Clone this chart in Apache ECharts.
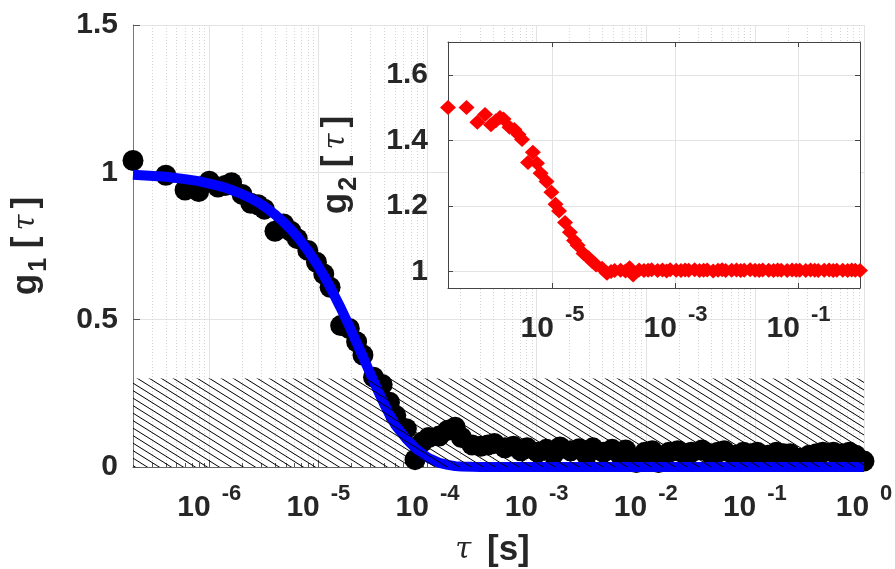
<!DOCTYPE html>
<html><head><meta charset="utf-8">
<script src="https://cdn.jsdelivr.net/npm/echarts@6/dist/echarts.min.js"></script>
<style>html,body{margin:0;padding:0;background:#fff}#c{width:895px;height:569px}</style>
</head><body><div id="c"></div>
<script>
// ---------- data ----------
const tau = [
  2e-7, 4e-7, 6e-7, 8e-7, 1e-6, 1.2e-6, 1.4e-6, 1.6e-6,
  2e-6, 2.4e-6, 2.8e-6, 3.2e-6, 4e-6, 4.8e-6, 5.6e-6, 6.4e-6,
  8e-6, 9.6e-6, 1.12e-5, 1.28e-5, 1.6e-5, 1.92e-5, 2.24e-5, 2.56e-5,
  3.2e-5, 3.84e-5, 4.48e-5, 5.12e-5, 6.4e-5, 7.68e-5, 8.96e-5, 1.024e-4,
  1.28e-4, 1.536e-4, 1.792e-4, 2.048e-4, 2.56e-4, 3.072e-4, 3.584e-4, 4.096e-4,
  5.12e-4, 6.144e-4, 7.168e-4, 8.192e-4, 1.024e-3, 1.229e-3, 1.434e-3, 1.638e-3,
  2.048e-3, 2.458e-3, 2.867e-3, 3.277e-3, 4.096e-3, 4.915e-3, 5.734e-3, 6.554e-3,
  8.192e-3, 9.830e-3, 1.147e-2, 1.311e-2, 1.638e-2, 1.966e-2, 2.294e-2, 2.621e-2,
  3.277e-2, 3.932e-2, 4.588e-2, 5.243e-2, 6.554e-2, 7.864e-2, 9.175e-2, 1.049e-1,
  1.311e-1, 1.573e-1, 1.835e-1, 2.097e-1, 2.621e-1, 3.146e-1, 3.670e-1, 4.194e-1,
  5.243e-1, 6.291e-1, 7.340e-1, 8.389e-1, 1.0
];
const g1Data = [
  1.04, 0.99, 0.94, 0.935, 0.97, 0.95, 0.955, 0.965,
  0.925, 0.895, 0.89, 0.875, 0.80, 0.825, 0.80, 0.775,
  0.735, 0.695, 0.655, 0.61, 0.48, 0.47, 0.425, 0.38,
  0.305, 0.28, 0.22, 0.175, 0.13, 0.025, 0.085, 0.10,
  0.105, 0.125, 0.135, 0.10, 0.075, 0.07, 0.075, 0.08,
  0.065, 0.07, 0.055, 0.065, 0.05, 0.06, 0.045, 0.068,
  0.055, 0.062, 0.04, 0.065, 0.05, 0.06, 0.045, 0.058,
  0.015, 0.05, 0.055, 0.015, 0.05, 0.055, 0.045, 0.05,
  0.058, 0.045, 0.05, 0.055, 0.04, 0.05, 0.045, 0.05,
  0.04, 0.05, 0.045, 0.045, 0.03, 0.04, 0.045, 0.05,
  0.05, 0.045, 0.05, 0.04, 0.02
];
const g1Fit = [
  0.992, 0.985, 0.977, 0.970, 0.962, 0.955, 0.948, 0.940,
  0.926, 0.912, 0.898, 0.884, 0.857, 0.831, 0.806, 0.782,
  0.735, 0.691, 0.650, 0.611, 0.540, 0.478, 0.422, 0.374,
  0.292, 0.228, 0.178, 0.140, 0.095, 0.065, 0.045, 0.030,
  0.014, 0.007, 0.003, 0.0015, 0.0005, 0, 0, 0,
  0, 0, 0, 0, 0, 0, 0, 0,
  0, 0, 0, 0, 0, 0, 0, 0,
  0, 0, 0, 0, 0, 0, 0, 0,
  0, 0, 0, 0, 0, 0, 0, 0,
  0, 0, 0, 0, 0, 0, 0, 0,
  0, 0, 0, 0, 0
];
const g2Data = [
  1.50, 1.50, 1.455, 1.479, 1.448, 1.46, 1.47, 1.465,
  1.44, 1.433, 1.418, 1.403, 1.333, 1.364, 1.33, 1.30,
  1.275, 1.242, 1.205, 1.185, 1.15, 1.12, 1.095, 1.08,
  1.055, 1.042, 1.03, 1.02, 1.01, 0.995, 1.0, 1.003,
  1.004, 1.002, 1.012, 0.99, 1.005, 1.003, 1.004, 1.006,
  1.003, 1.005, 1.002, 1.006, 1.004, 1.003, 1.005, 1.004,
  1.006, 1.003, 1.004, 1.005, 1.002, 1.004, 1.006, 1.003,
  1.004, 1.005, 1.003, 1.004, 1.006, 1.004, 1.003, 1.005,
  1.004, 1.003, 1.005, 1.004, 1.003, 1.005, 1.004, 1.004,
  1.003, 1.005, 1.004, 1.003, 1.004, 1.005, 1.003, 1.004,
  1.004, 1.003, 1.005, 1.004, 1.003
];
const mainXTicks = [1e-6, 1e-5, 1e-4, 1e-3, 1e-2, 1e-1, 1];
const mainYTicks = [0, 0.5, 1, 1.5];
const insetXTicks = [1e-5, 1e-3, 1e-1];
const insetYTicks = [1, 1.2, 1.4, 1.6];
const minorDecades = [1e-7, 1e-6, 1e-5, 1e-4, 1e-3, 1e-2, 1e-1];
const minorSteps = [2, 3, 4, 5, 6, 7, 8, 9];
const hatchBand = [0, 0.3];
const xRange = [2e-7, 1];
const mainYRange = [0, 1.5];
const insetYRange = [0.95, 1.7];

// ---------- layout / style ----------
const F = 'Liberation Sans';
const TXT = '#262626';
const MAIN = {left: 133, top: 25, width: 731, height: 442};
const INSET = {left: 448, top: 42, width: 412, height: 246};

const minorTicks = [];
minorDecades.forEach(d => minorSteps.forEach(s => {
  const v = d * s;
  if (v > xRange[0] * 1.0001 && v < xRange[1]) minorTicks.push(v);
}));

const hatchCanvas = document.createElement('canvas');
hatchCanvas.width = 24; hatchCanvas.height = 15;
(function () {
  const c = hatchCanvas.getContext('2d');
  c.strokeStyle = '#000'; c.lineWidth = 1;
  for (let k = -4; k <= 4; k++) {
    c.beginPath(); c.moveTo(k * 12 - 24, -15); c.lineTo(k * 12 + 48, 30); c.stroke();
  }
})();

// tick labels 10^n : both tokens get the same box height so the exponent sits higher
const richTick = {
  b: {fontFamily: F, fontSize: 30, fontWeight: 'bold', color: TXT, lineHeight: 30, padding: [10, 0, 0, 0]},
  s: {fontFamily: F, fontSize: 22, fontWeight: 'bold', color: TXT, lineHeight: 22, padding: [0, 0, 18, 11]}
};
function pow10Label(v) {
  const e = Math.round(Math.log10(v));
  return '{b|10}{s|' + e + '}';
}
// axis names with subscript
const richName = {
  g: {fontFamily: F, fontSize: 35, fontWeight: 'bold', color: TXT, lineHeight: 35, padding: [0, 0, 8, 0]},
  sub: {fontFamily: F, fontSize: 25, fontWeight: 'bold', color: TXT, lineHeight: 25, padding: [18, 0, 0, 2]},
  br: {fontFamily: F, fontSize: 35, fontWeight: 'bold', color: TXT, lineHeight: 35, padding: [0, 0, 8, 0]},
  t: {fontFamily: 'DejaVu Serif', fontStyle: 'italic', fontSize: 29, color: TXT, lineHeight: 35, padding: [0, 6, 8, 6]},
  sp: {fontFamily: F, fontSize: 35, color: TXT, lineHeight: 35, padding: [0, 0, 8, 0]}
};
const plainLabel = {fontFamily: F, fontSize: 30, fontWeight: 'bold', color: TXT};

const chart = echarts.init(document.getElementById('c'), null, {renderer: 'canvas'});
chart.setOption({
  animation: false,
  backgroundColor: '#fff',
  textStyle: {fontFamily: F},
  grid: [
    {left: MAIN.left, top: MAIN.top, width: MAIN.width, height: MAIN.height, containLabel: false, outerBoundsMode: 'none'},
    {left: INSET.left, top: INSET.top, width: INSET.width, height: INSET.height, containLabel: false, outerBoundsMode: 'none'}
  ],
  graphic: [{
    type: 'rect', z: 3, silent: true,
    shape: {x: INSET.left, y: INSET.top, width: INSET.width, height: INSET.height},
    style: {fill: '#fff'}
  }],
  xAxis: [
    {
      gridIndex: 0, type: 'log', logBase: 10, min: xRange[0], max: xRange[1], position: 'bottom', z: 0,
      axisLine: {show: true, onZero: false, lineStyle: {color: '#666', width: 1}},
      axisTick: {show: true, inside: true, length: 7, customValues: mainXTicks, lineStyle: {color: '#555'}},
      axisLabel: {show: true, customValues: mainXTicks, formatter: pow10Label, rich: richTick, margin: 21},
      splitLine: {show: true, lineStyle: {color: '#e3e3e3', width: 1}},
      minorTick: {show: false}, minorSplitLine: {show: false},
      name: '{t|τ}{sp| }{br|[s]}', nameLocation: 'middle', nameGap: 70,
      nameTextStyle: {rich: richName, fontSize: 35, padding: [0, 18, 0, 0]}
    },
    {
      gridIndex: 1, type: 'log', logBase: 10, min: xRange[0], max: xRange[1], position: 'bottom', z: 4,
      axisLine: {show: true, onZero: false, lineStyle: {color: '#444', width: 1}},
      axisTick: {show: true, inside: true, length: 5, customValues: insetXTicks, lineStyle: {color: '#444'}},
      axisLabel: {show: true, customValues: insetXTicks, formatter: pow10Label, rich: richTick, margin: 21},
      splitLine: {show: true, lineStyle: {color: '#e3e3e3', width: 1}}
    },
    {
      gridIndex: 1, type: 'log', logBase: 10, min: xRange[0], max: xRange[1], position: 'top', z: 4,
      axisLine: {show: true, onZero: false, lineStyle: {color: '#444', width: 1}},
      axisTick: {show: true, inside: true, length: 5, customValues: insetXTicks, lineStyle: {color: '#444'}},
      axisLabel: {show: false}, splitLine: {show: false}
    }
  ],
  yAxis: [
    {
      gridIndex: 0, type: 'value', min: mainYRange[0], max: mainYRange[1], interval: 0.5, z: 0,
      axisLine: {show: true, onZero: false, lineStyle: {color: '#777', width: 1}},
      axisTick: {show: true, inside: true, length: 7, customValues: mainYTicks, lineStyle: {color: '#555'}},
      axisLabel: Object.assign({show: true, margin: 15, customValues: mainYTicks, formatter: v => String(v)}, plainLabel),
      splitLine: {show: true, lineStyle: {color: '#e3e3e3', width: 1}},
      name: '{g|g}{sub|1}{sp| }{br|[}{t|τ}{br|]}', nameLocation: 'middle', nameRotate: 90, nameGap: 85,
      nameTextStyle: {rich: richName, fontSize: 35}
    },
    {
      gridIndex: 1, type: 'value', min: insetYRange[0], max: insetYRange[1], z: 4,
      axisLine: {show: true, onZero: false, lineStyle: {color: '#444', width: 1}},
      axisTick: {show: true, inside: true, length: 5, customValues: insetYTicks, lineStyle: {color: '#444'}},
      axisLabel: Object.assign({show: true, margin: 20, customValues: insetYTicks, formatter: v => String(+v.toFixed(1))}, plainLabel),
      splitLine: {show: true, lineStyle: {color: '#e3e3e3', width: 1}},
      name: '{g|g}{sub|2}{sp| }{br|[}{t|τ}{br|]}', nameLocation: 'middle', nameRotate: 90, nameGap: 90,
      nameTextStyle: {rich: richName, fontSize: 35}
    },
    {
      gridIndex: 1, type: 'value', min: insetYRange[0], max: insetYRange[1], position: 'right', z: 4,
      axisLine: {show: true, onZero: false, lineStyle: {color: '#444', width: 1}},
      axisTick: {show: true, inside: true, length: 5, customValues: insetYTicks, lineStyle: {color: '#444'}},
      axisLabel: {show: false}, splitLine: {show: false}
    }
  ],
  series: [
    {
      type: 'custom', xAxisIndex: 0, yAxisIndex: 0, z: 1, silent: true, clip: false,
      data: minorTicks.map(v => [v, 0]),
      encode: {x: 0, y: 1},
      renderItem(params, api) {
        const v = api.value(0);
        const p0 = api.coord([v, mainYRange[0]]);
        const p1 = api.coord([v, mainYRange[1]]);
        const x = Math.round(p0[0]) + 0.5;
        return {type: 'group', children: [
          {type: 'line', shape: {x1: x, y1: p1[1], x2: x, y2: p0[1]}, style: {stroke: '#d4d4d4', lineWidth: 1, lineDash: [1, 2]}},
          {type: 'line', shape: {x1: x, y1: p0[1], x2: x, y2: p0[1] - 4}, style: {stroke: '#555', lineWidth: 1}}
        ]};
      }
    },
    {
      type: 'scatter', xAxisIndex: 0, yAxisIndex: 0, z: 2, silent: true, clip: false,
      symbol: 'circle', symbolSize: 21, itemStyle: {color: '#000', opacity: 1},
      data: tau.map((t, i) => [t, g1Data[i]])
    },
    {
      type: 'line', xAxisIndex: 0, yAxisIndex: 0, z: 3, silent: true, clip: false,
      showSymbol: false, symbol: 'none', lineStyle: {color: '#0000ff', width: 10, opacity: 1},
      data: tau.map((t, i) => [t, g1Fit[i]])
    },
    {
      type: 'custom', xAxisIndex: 0, yAxisIndex: 0, z: 6, silent: true, clip: false,
      data: [[xRange[0], xRange[1], hatchBand[0], hatchBand[1]]],
      encode: {x: [0, 1], y: [2, 3]},
      renderItem(params, api) {
        const a = api.coord([api.value(0), api.value(3)]);
        const b = api.coord([api.value(1), api.value(2)]);
        return {type: 'rect', shape: {x: a[0], y: a[1], width: b[0] - a[0], height: b[1] - a[1]},
          style: {fill: {image: hatchCanvas, repeat: 'repeat'}, stroke: null}};
      }
    },
    {
      type: 'scatter', xAxisIndex: 1, yAxisIndex: 1, z: 5, silent: true, clip: false,
      symbol: 'diamond', symbolSize: [16, 15], itemStyle: {color: '#ff0000', opacity: 1},
      data: tau.map((t, i) => [t, g2Data[i]])
    }
  ]
});
</script></body></html>
